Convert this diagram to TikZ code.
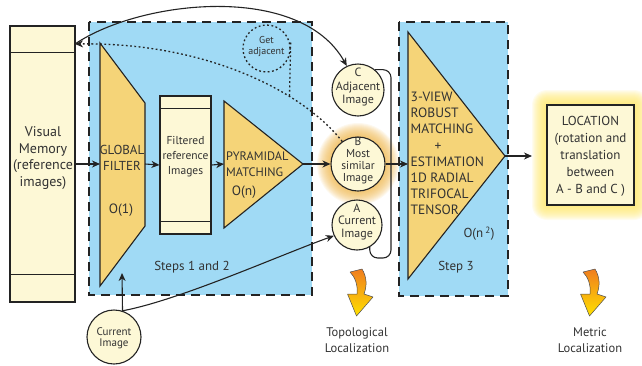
\documentclass[tikz,border=0pt]{standalone}
\usepackage{fontspec}
\setmainfont{PT Sans}
\usetikzlibrary{arrows.meta,calc}
\definecolor{skyb}{RGB}{160,218,245}
\definecolor{gold}{RGB}{245,212,120}
\definecolor{cream}{RGB}{253,248,214}
\definecolor{ink}{RGB}{35,35,35}
\definecolor{txt}{RGB}{50,50,50}
\definecolor{glowo}{RGB}{238,180,70}
\definecolor{glowy}{RGB}{255,232,110}
\definecolor{arrtop}{RGB}{240,125,30}
\definecolor{arrbot}{RGB}{255,225,0}
\tikzset{
  ln/.style={draw=ink, line width=1.1pt},
  arr/.style={ln, -{Stealth[length=8pt,width=7pt,inset=2.5pt]}},
  dotline/.style={draw=ink, line width=1.3pt, dash pattern=on 1.8pt off 2.5pt},
  zoneedge/.style={draw=ink, line width=1.6pt, dash pattern=on 9pt off 6pt},
  goldshape/.style={fill=gold, draw=ink, line width=1.1pt, line join=miter},
  creambox/.style={rectangle, fill=cream, draw=ink, line width=1.1pt, inner sep=0pt},
  imgcircle/.style={circle, fill=cream, draw=ink, line width=1.1pt, inner sep=0pt},
  lbl/.style={text=txt, inner sep=0pt, align=center},
  bendarr/.pic={
    \shade[top color=arrtop, bottom color=arrbot, draw=ink!80, line width=0.5pt, line join=round]
      (12,6) -- (24,3) .. controls (29,11) and (29,20) .. (26,28) -- (35,31) -- (18.5,50)
      -- (9.5,28) -- (19,28) .. controls (20,19) and (17,11) .. (12,6) -- cycle;
  }
}
\begin{document}
\begin{tikzpicture}[x=1pt,y=-1pt]
\useasboundingbox (0,0) rectangle (642,365);

% zones
\fill[skyb] (89,22) rectangle (312,295);
\draw[zoneedge] (89,22) rectangle (312,295);
\fill[skyb] (399,22) rectangle (508,296);
\draw[zoneedge] (399,22) rectangle (508,296);

% glows
\coordinate (Bc) at (358,164);
\foreach \r in {28,...,41} \fill[glowo, opacity=0.09] (Bc) circle (\r);
\foreach \r in {1,...,15} \fill[glowy, opacity=0.11, rounded corners=\r pt] (547-\r,105-\r) rectangle (634+\r,205+\r);

% visual memory
\node[creambox, minimum width=65pt, minimum height=276pt] (vm) at (42.5,164) {};
\draw[ln] ($(vm.north west)+(0,27)$) -- ($(vm.north east)+(0,27)$);
\draw[ln] ($(vm.south west)+(0,-28)$) -- ($(vm.south east)+(0,-28)$);
\node[lbl, font=\fontsize{14}{16.7}\selectfont] (vmtext) at (43,158) {Visual\\Memory\\(reference\\images)};
\coordinate (vmtop) at (75,44);

% global filter
\draw[goldshape] (100,43) -- (145,103) -- (145,226) -- (100,286) -- cycle;
\coordinate (gfW) at (100,164);
\coordinate (gfE) at (145,164);
\coordinate (gfin) at (122,273);
\node[lbl, font=\fontsize{13}{16.5}\selectfont] (gft) at (122,158) {GLOBAL\\FILTER};
\node[lbl, font=\fontsize{13.5}{14}\selectfont] (gfo) at (121,210) {O(1)};

% filtered reference images
\node[creambox, minimum width=51pt, minimum height=138pt] (fr) at (185.5,165) {};
\draw[ln] ($(fr.north west)+(0,13)$) -- ($(fr.north east)+(0,13)$);
\draw[ln] ($(fr.south west)+(0,-13)$) -- ($(fr.south east)+(0,-13)$);
\node[lbl, font=\fontsize{11.5}{15}\selectfont] (frt) at (185.5,157) {Filtered\\reference\\Images};

% pyramidal matching
\draw[goldshape] (224,101) -- (303,164) -- (224,228) -- cycle;
\coordinate (pyW) at (224,164);
\coordinate (pyE) at (303,164);
\node[lbl, align=left, anchor=west, font=\fontsize{12.3}{16}\selectfont] (pyt) at (226,164) {PYRAMIDAL\\MATCHING};
\node[lbl, font=\fontsize{13.5}{14}\selectfont] (pyo) at (244,192) {O(n)};

% get adjacent
\node[circle, dotline, minimum size=47pt, inner sep=0pt] (ga) at (266.5,48.5) {};
\node[lbl, font=\fontsize{10}{11}\selectfont] (gat) at (266.5,46) {Get\\adjacent};

% image circles
\node[imgcircle, minimum size=52pt] (C) at (358,90) {};
\node[imgcircle, minimum size=54pt] (B) at (358,164) {};
\node[imgcircle, minimum size=50pt] (A) at (357,225) {};
\node[lbl, font=\fontsize{12}{13.5}\selectfont] (Ct) at (358,87) {C\\Adjacent\\Image};
\node[lbl, font=\fontsize{11.5}{12}\selectfont] (Bt) at (358,160.5) {B\\Most\\similar\\Image};
\node[lbl, font=\fontsize{12}{12.5}\selectfont] (At) at (357,221.5) {A\\Current\\Image};
\draw[ln, rounded corners=8pt] (C.50) -| (391,258) -| (A.-60);

% current image (bottom)
\node[imgcircle, minimum size=54pt] (ci) at (114,337) {};
\node[lbl, font=\fontsize{11}{11.5}\selectfont] (cit) at (114,338) {Current\\Image};

% step 3
\draw[goldshape] (408,32) -- (505,156) -- (408,279) -- cycle;
\coordinate (s3W) at (408,164);
\coordinate (s3E) at (505,156);
\node[lbl, align=left, anchor=west, font=\fontsize{13.5}{16.2}\selectfont] (s3t) at (410.5,153.5)
  {3-VIEW\\ROBUST\\MATCHING\\\hspace*{24pt}+\\ESTIMATION\\1D RADIAL\\TRIFOCAL\\TENSOR};
\node[lbl, font=\fontsize{13}{14}\selectfont] (s3o) at (479,234) {O(n\,\textsuperscript{2})};

% location
\node[creambox, minimum width=87pt, minimum height=100pt] (loc) at (590.5,155) {};
\node[lbl, font=\fontsize{13}{17}\selectfont] (loct) at (590.5,156) {LOCATION\\(rotation and\\translation\\between\\A - B and C )};
\coordinate (locin) at (532,156);

% zone labels
\node[lbl, font=\fontsize{13}{14}\selectfont] (z1) at (192,267) {Steps 1 and 2};
\node[lbl, font=\fontsize{13}{14}\selectfont] (z2) at (456,267) {Step 3};

% bottom labels
\pic at (338,266) {bendarr};
\pic at (571,266) {bendarr};
\node[lbl, font=\fontsize{12.5}{16}\selectfont] (topo) at (357,340) {Topological\\Localization};
\node[lbl, font=\fontsize{12.5}{16}\selectfont] (metr) at (590,340) {Metric\\Localization};

% connectors
\draw[arr] (vm.east) -- (gfW);
\draw[arr] (gfE) -- (fr.west);
\draw[arr] (fr.east) -- (pyW);
\draw[arr] (pyE) -- (B.west);
\draw[arr] (B.east) -- (s3W);
\draw[arr] (s3E) -- (locin);
\draw[arr] (ci.72) -- (gfin);
\draw[arr] (ci.72) .. controls (180,300) and (280,255) .. (A.205);
\draw[arr] (vmtop) .. controls (140,0) and (300,-18) .. (C.115);
\draw[dotline, -{Stealth[length=8pt,width=7pt,inset=2.5pt]}] (B.125) .. controls (300,88) and (200,42) .. (vmtop) coordinate[pos=0.3] (j);
\draw[dotline] ($(ga.east)+(0,-6)$) -- (j);
\end{tikzpicture}
\end{document}
